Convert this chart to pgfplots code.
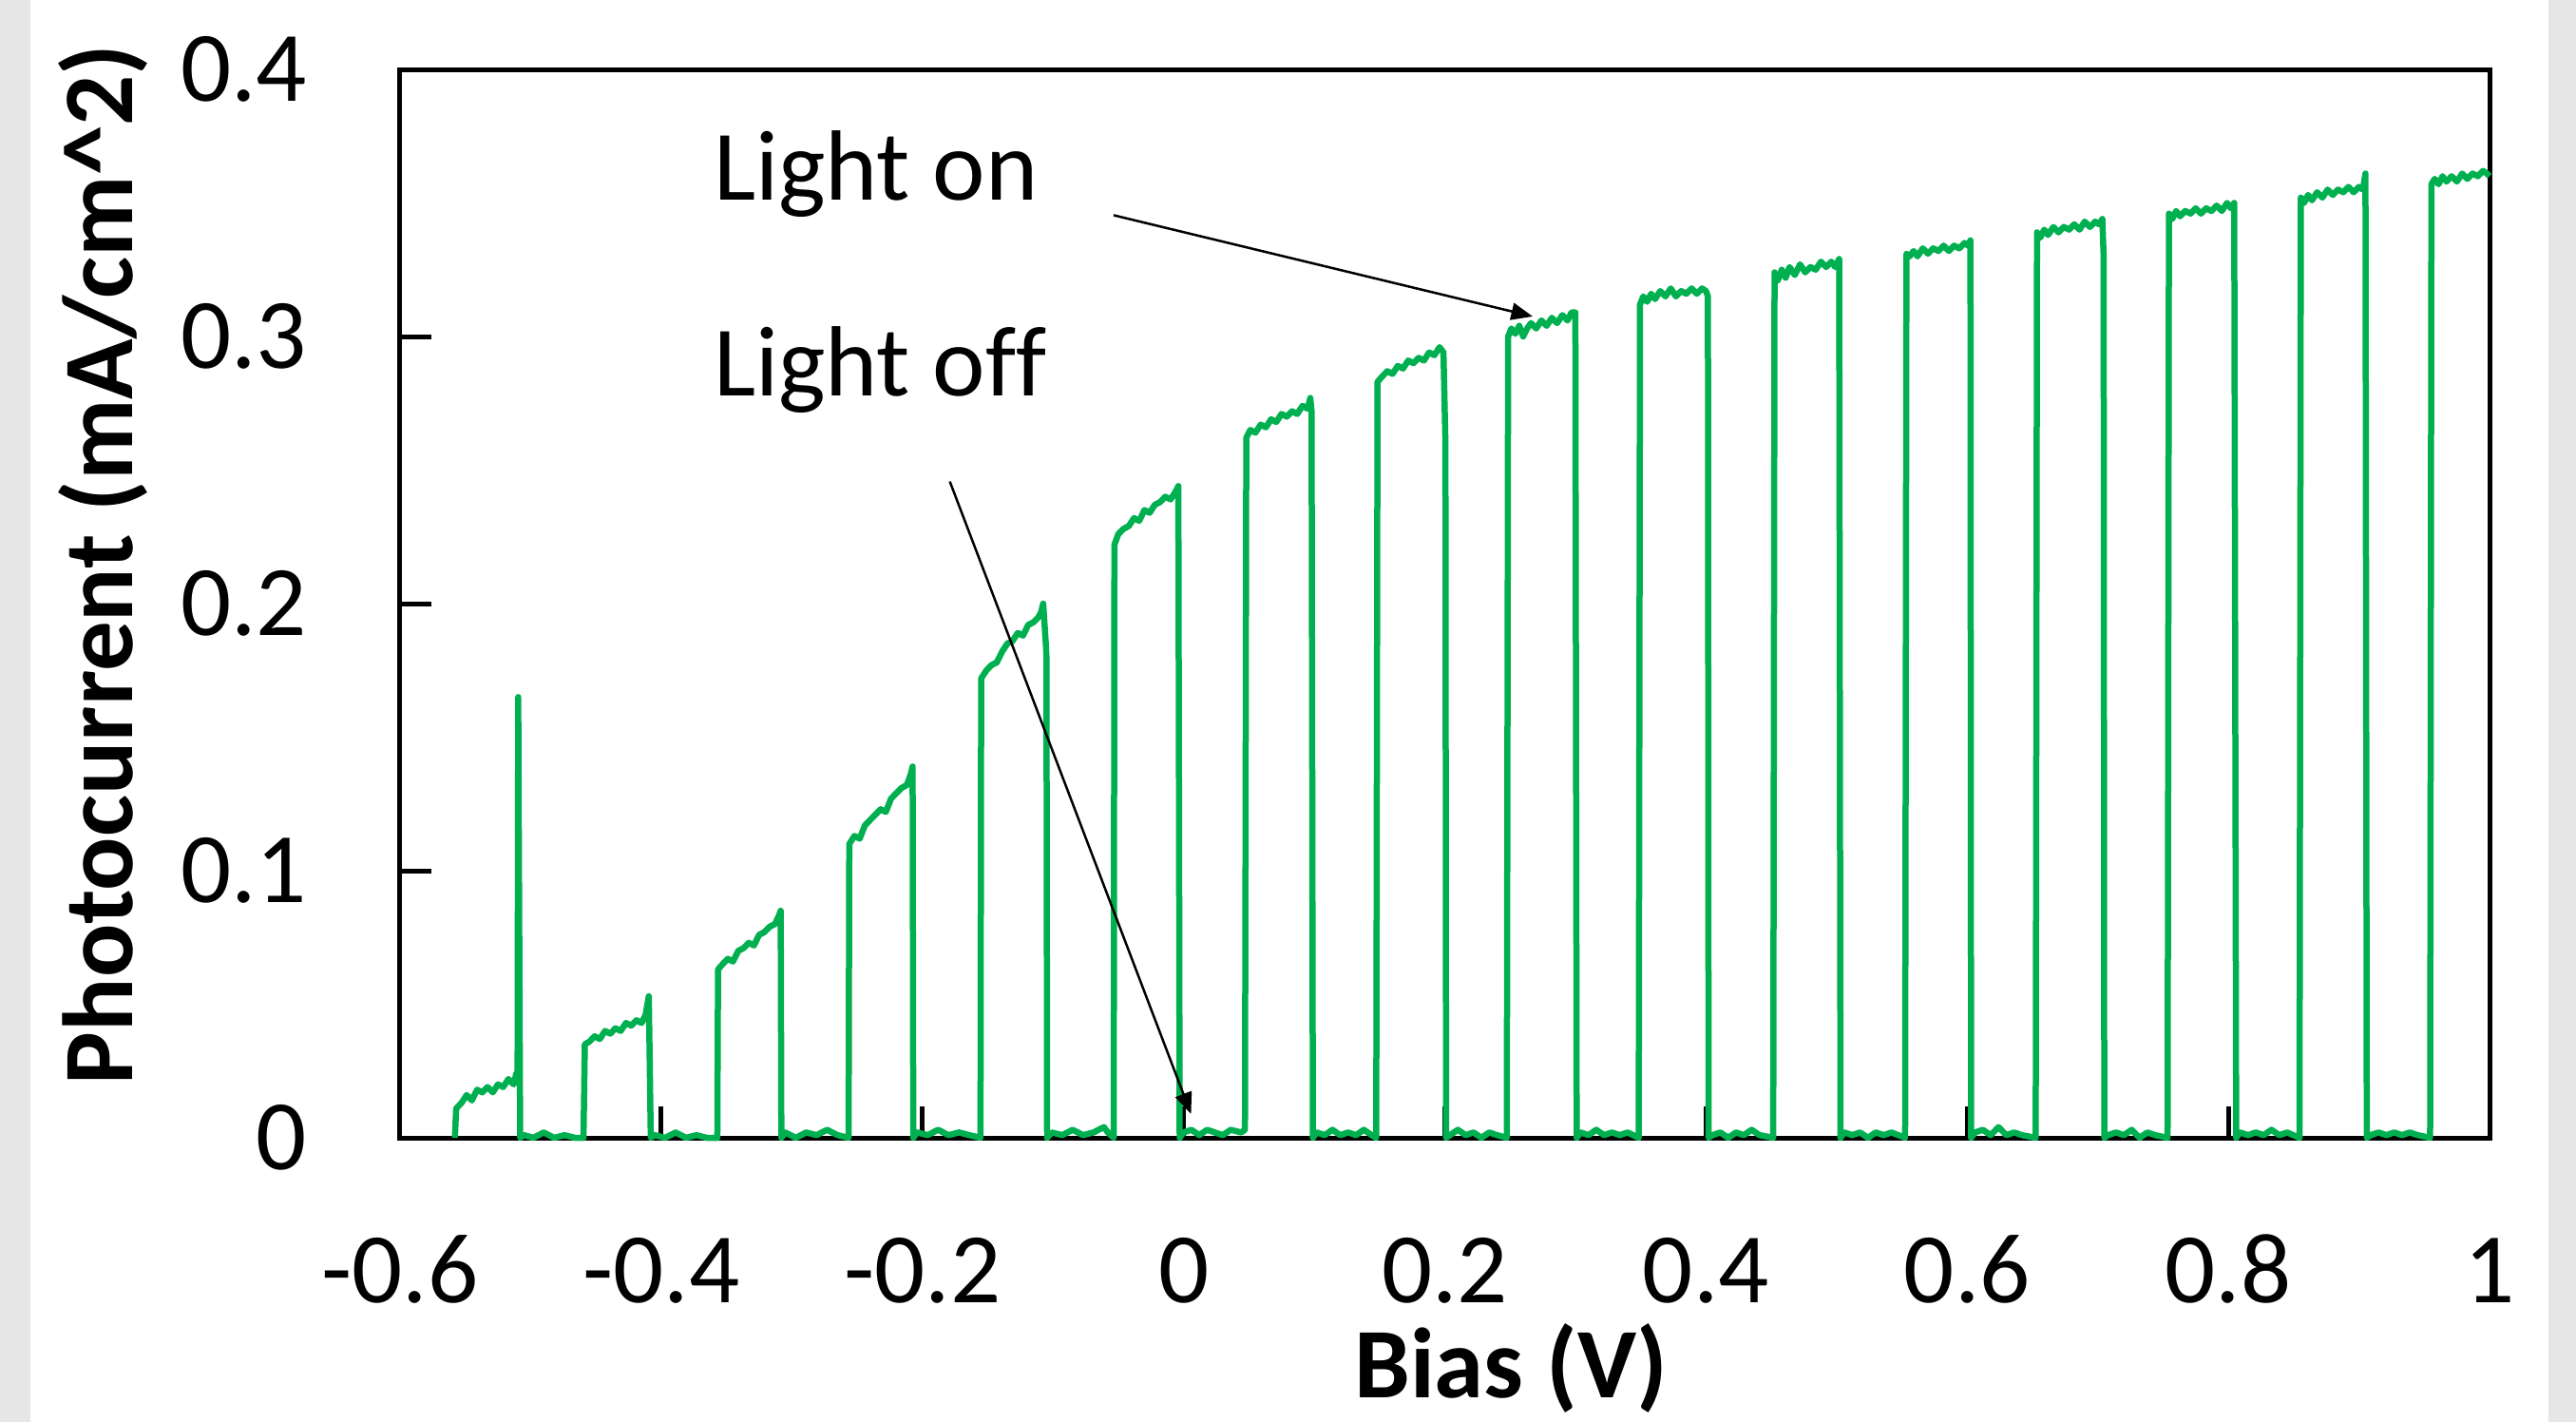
\documentclass[border=0pt]{standalone}
\usepackage{fontspec}
\setmainfont{Carlito}
\usepackage{pgfplots}
\pgfplotsset{compat=1.18}
\usetikzlibrary{arrows.meta}

\definecolor{xlgreen}{HTML}{00B050}
\definecolor{sidegray}{HTML}{E6E6E6}
\newcommand{\chartfont}{\fontsize{21bp}{25bp}\selectfont}

\begin{document}
\begin{tikzpicture}
\begin{axis}[
  at={(0,0)}, anchor=south west,
  scale only axis,
  width=439.8bp,
  height=224.8bp,
  xmin=-0.6, xmax=1,
  ymin=0, ymax=0.4,
  clip=false,
  axis line style={line width=1bp, black},
  tick align=inside,
  xtick pos=lower, ytick pos=left,
  major tick length=6.6bp,
  tick style={line width=1bp, black},
  xtick={-0.6,-0.4,-0.2,0,0.2,0.4,0.6,0.8,1},
  xticklabels={-0.6,-0.4,-0.2,0,0.2,0.4,0.6,0.8,1},
  ytick={0,0.1,0.2,0.3,0.4},
  yticklabels={0,0.1,0.2,0.3,0.4},
  xticklabel style={font=\chartfont, anchor=base, inner sep=0pt, yshift=-34.6bp},
  yticklabel style={font=\chartfont, anchor=east, inner sep=0pt, xshift=-19.4bp},
  xlabel={Bias (V)},
  ylabel={Photocurrent (mA/cm\textasciicircum 2)},
  xlabel style={font=\chartfont\bfseries, at={(axis description cs:0.5316,-0.2429)}, anchor=base, inner sep=0pt},
  ylabel style={font=\chartfont\bfseries, at={(axis description cs:-0.1278,0.5365)}, rotate=0, anchor=base, inner sep=0pt},
]
% chopped-light photocurrent trace
\addplot[color=xlgreen, line width=1.3bp, line join=round, mark=none] coordinates {
  (-0.558,0) (-0.557,0.011) (-0.553,0.013) (-0.549,0.016) (-0.545,0.014) (-0.541,0.018) (-0.537,0.017) (-0.533,0.019) (-0.529,0.017) (-0.525,0.020) (-0.521,0.019) (-0.517,0.022) (-0.513,0.020) (-0.511,0.024) (-0.510,0.021) (-0.5095,0.165) (-0.508,0.000)
  (-0.505,0.001) (-0.498,0.000) (-0.490,0.002) (-0.482,0.000) (-0.474,0.001) (-0.466,0.000) (-0.4595,0.000)
  (-0.4585,0.035) (-0.455,0.036) (-0.451,0.038) (-0.447,0.037) (-0.443,0.040) (-0.439,0.039) (-0.435,0.041) (-0.431,0.040) (-0.427,0.043) (-0.423,0.042) (-0.419,0.044) (-0.415,0.043) (-0.412,0.046) (-0.4095,0.053) (-0.408,0.000)
  (-0.405,0.001) (-0.397,0.000) (-0.389,0.002) (-0.381,0.000) (-0.373,0.001) (-0.365,0.000) (-0.357,0.000)
  (-0.3565,0.063) (-0.353,0.065) (-0.349,0.067) (-0.345,0.066) (-0.341,0.070) (-0.337,0.071) (-0.333,0.073) (-0.329,0.072) (-0.325,0.076) (-0.321,0.077) (-0.317,0.079) (-0.313,0.080) (-0.310,0.083) (-0.3085,0.085) (-0.308,0.000)
  (-0.305,0.002) (-0.297,0.000) (-0.289,0.002) (-0.281,0.001) (-0.273,0.003) (-0.265,0.001) (-0.2565,0.000)
  (-0.256,0.110) (-0.252,0.113) (-0.248,0.112) (-0.244,0.117) (-0.240,0.119) (-0.236,0.121) (-0.232,0.123) (-0.228,0.122) (-0.224,0.127) (-0.220,0.129) (-0.216,0.131) (-0.212,0.132) (-0.209,0.136) (-0.2075,0.139) (-0.207,0.000)
  (-0.204,0.002) (-0.196,0.001) (-0.188,0.003) (-0.180,0.001) (-0.172,0.002) (-0.164,0.001) (-0.1555,0.000)
  (-0.155,0.172) (-0.151,0.175) (-0.147,0.177) (-0.143,0.178) (-0.139,0.182) (-0.135,0.185) (-0.131,0.186) (-0.127,0.189) (-0.123,0.188) (-0.119,0.192) (-0.115,0.193) (-0.111,0.195) (-0.109,0.197) (-0.1075,0.200) (-0.1055,0.185) (-0.105,0.180) (-0.1045,0.000)
  (-0.101,0.002) (-0.093,0.001) (-0.085,0.003) (-0.077,0.001) (-0.069,0.002) (-0.061,0.004) (-0.058,0.002) (-0.0535,0.000)
  (-0.053,0.222) (-0.050,0.226) (-0.046,0.228) (-0.042,0.229) (-0.038,0.232) (-0.034,0.231) (-0.030,0.235) (-0.026,0.234) (-0.022,0.237) (-0.018,0.238) (-0.014,0.240) (-0.010,0.239) (-0.006,0.242) (-0.004,0.244) (-0.003,0.000)
  (0.000,0.002) (0.006,0.003) (0.012,0.001) (0.018,0.003) (0.024,0.002) (0.030,0.001) (0.036,0.003) (0.044,0.002) (0.047,0.003)
  (0.048,0.262) (0.051,0.265) (0.055,0.264) (0.059,0.267) (0.063,0.266) (0.067,0.269) (0.071,0.268) (0.075,0.271) (0.079,0.270) (0.083,0.272) (0.087,0.271) (0.091,0.274) (0.095,0.273) (0.097,0.277) (0.098,0.272) (0.099,0.000)
  (0.102,0.002) (0.108,0.001) (0.114,0.003) (0.120,0.001) (0.126,0.002) (0.132,0.001) (0.138,0.003) (0.144,0.001) (0.1475,0.000)
  (0.1485,0.283) (0.152,0.285) (0.156,0.287) (0.160,0.286) (0.164,0.289) (0.168,0.288) (0.172,0.291) (0.176,0.290) (0.180,0.292) (0.184,0.291) (0.188,0.294) (0.192,0.293) (0.196,0.296) (0.199,0.294) (0.2005,0.260) (0.201,0.000)
  (0.204,0.001) (0.210,0.003) (0.216,0.001) (0.222,0.002) (0.228,0.000) (0.234,0.002) (0.240,0.001) (0.2475,0.000)
  (0.2485,0.300) (0.251,0.303) (0.254,0.301) (0.257,0.304) (0.260,0.300) (0.263,0.303) (0.266,0.305) (0.270,0.303) (0.274,0.306) (0.278,0.304) (0.282,0.307) (0.286,0.305) (0.290,0.308) (0.294,0.306) (0.297,0.309) (0.300,0.309) (0.301,0.000)
  (0.304,0.002) (0.310,0.001) (0.316,0.003) (0.322,0.001) (0.328,0.002) (0.334,0.001) (0.340,0.002) (0.3485,0.000)
  (0.3495,0.312) (0.352,0.315) (0.355,0.313) (0.358,0.316) (0.361,0.314) (0.365,0.317) (0.369,0.315) (0.373,0.318) (0.377,0.315) (0.381,0.317) (0.385,0.316) (0.389,0.318) (0.393,0.316) (0.397,0.318) (0.400,0.317) (0.4015,0.315) (0.402,0.000)
  (0.405,0.001) (0.411,0.002) (0.417,0.000) (0.423,0.002) (0.429,0.001) (0.435,0.003) (0.441,0.001) (0.4515,0.000)
  (0.4525,0.324) (0.455,0.321) (0.458,0.325) (0.461,0.322) (0.464,0.326) (0.468,0.323) (0.472,0.327) (0.476,0.324) (0.480,0.326) (0.484,0.325) (0.488,0.328) (0.492,0.326) (0.496,0.328) (0.499,0.326) (0.502,0.329) (0.503,0.000)
  (0.506,0.002) (0.512,0.001) (0.518,0.002) (0.524,0.000) (0.530,0.002) (0.536,0.001) (0.542,0.002) (0.5525,0.000)
  (0.5535,0.331) (0.556,0.330) (0.559,0.332) (0.562,0.330) (0.566,0.333) (0.570,0.331) (0.574,0.333) (0.578,0.332) (0.582,0.334) (0.586,0.332) (0.590,0.334) (0.594,0.333) (0.598,0.335) (0.601,0.334) (0.6025,0.336) (0.603,0.000)
  (0.606,0.002) (0.612,0.003) (0.618,0.001) (0.624,0.004) (0.630,0.001) (0.636,0.002) (0.642,0.001) (0.6525,0.000)
  (0.6535,0.339) (0.656,0.337) (0.659,0.340) (0.662,0.338) (0.666,0.341) (0.670,0.339) (0.674,0.341) (0.678,0.340) (0.682,0.342) (0.686,0.340) (0.690,0.343) (0.694,0.341) (0.698,0.343) (0.701,0.342) (0.7035,0.344) (0.7045,0.330) (0.705,0.000)
  (0.708,0.001) (0.714,0.002) (0.720,0.001) (0.726,0.003) (0.732,0.000) (0.738,0.002) (0.744,0.001) (0.7535,0.000)
  (0.7545,0.346) (0.757,0.344) (0.760,0.347) (0.763,0.345) (0.767,0.347) (0.771,0.346) (0.775,0.348) (0.779,0.346) (0.783,0.348) (0.787,0.347) (0.791,0.349) (0.795,0.347) (0.799,0.350) (0.802,0.348) (0.8045,0.350) (0.806,0.000)
  (0.809,0.002) (0.815,0.001) (0.821,0.002) (0.827,0.001) (0.833,0.003) (0.839,0.001) (0.845,0.002) (0.8545,0.000)
  (0.8555,0.352) (0.858,0.350) (0.861,0.353) (0.864,0.351) (0.868,0.354) (0.872,0.352) (0.876,0.355) (0.880,0.353) (0.884,0.355) (0.888,0.354) (0.892,0.356) (0.896,0.354) (0.900,0.356) (0.903,0.355) (0.905,0.361) (0.906,0.000)
  (0.909,0.001) (0.915,0.002) (0.921,0.001) (0.927,0.002) (0.933,0.001) (0.939,0.002) (0.945,0.001) (0.9545,0.000)
  (0.9555,0.357) (0.958,0.359) (0.961,0.357) (0.964,0.360) (0.967,0.358) (0.971,0.360) (0.975,0.358) (0.979,0.361) (0.983,0.359) (0.987,0.361) (0.991,0.360) (0.995,0.362) (0.998,0.361) (1.000,0.360)
};
% annotations
\node[font=\chartfont, anchor=base west, inner sep=0pt] at (axis cs:-0.3605,0.3512) {Light on};
\node[font=\chartfont, anchor=base west, inner sep=0pt] at (axis cs:-0.3605,0.2779) {Light of\kern0pt f};
\draw[line width=0.5bp, -{Triangle[length=4.5bp,width=3.6bp]}] (axis cs:-0.0536,0.3454) -- (axis cs:0.2673,0.3075);
\draw[line width=0.5bp, -{Triangle[length=4.5bp,width=3.6bp]}] (axis cs:-0.179,0.2457) -- (axis cs:0.0057,0.0089);
\end{axis}
% page frame with grey side bands
\pgfresetboundingbox
\path[use as bounding box] (-84.2bp,-59.8bp) rectangle (458bp,239.4bp);
\fill[sidegray] (-84.2bp,-59.8bp) rectangle (-77.8bp,239.4bp);
\fill[sidegray] (452.2bp,-59.8bp) rectangle (458bp,239.4bp);
\end{tikzpicture}
\end{document}
